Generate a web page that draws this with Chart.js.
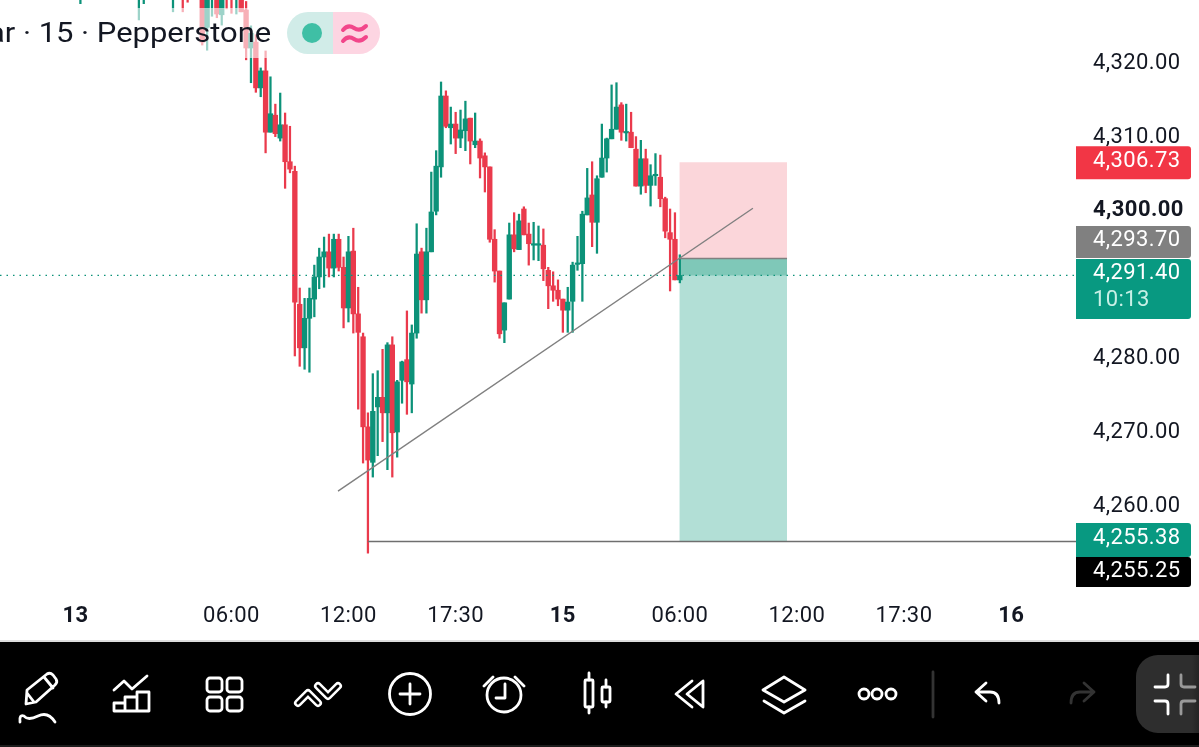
<!DOCTYPE html>
<html><head><meta charset="utf-8">
<script src="https://cdn.jsdelivr.net/npm/chart.js@4"></script>
<style>
html,body{margin:0;padding:0;background:#fff;width:1199px;height:747px;overflow:hidden}
#wrap{position:relative;width:1199px;height:747px;overflow:hidden}
canvas{position:absolute;left:0;top:0}
#veil{position:absolute;left:0;top:8px;width:272px;height:50px;background:rgba(255,255,255,.6)}
#title{position:absolute;right:928px;top:14px;font:27px/38px Roboto,sans-serif;color:#131722;white-space:nowrap;transform:scaleX(1.146);transform-origin:right center}
#tb{position:absolute;left:0;top:0}
</style></head><body><div id="wrap">
<canvas id="c" width="1199" height="642"></canvas>
<div id="veil"></div>
<div id="title">ar · 15 · Pepperstone</div>
<svg id="tb" width="1199" height="747" viewBox="0 0 1199 747" fill="none" stroke="#fff" stroke-width="2.8" stroke-linecap="round" stroke-linejoin="round">
<defs><linearGradient id="g" x1="0" x2="1" y1="0" y2="0"><stop offset="0" stop-color="#2e2e2e"/><stop offset=".62" stop-color="#2e2e2e"/><stop offset="1" stop-color="#000"/></linearGradient></defs>
<path d="M333 12H308a21 21 0 0 0 0 42H333Z" fill="#d1ece8" stroke="none"/>
<path d="M333 12H359a21 21 0 0 1 0 42H333Z" fill="#fdd5e2" stroke="none"/>
<circle cx="312" cy="33" r="10" fill="#3fbfa5" stroke="none"/>
<path d="M343 30Q348 24 354 28T366 26M343 41Q348 35 354 39T366 37" stroke="#f2468a" stroke-width="4"/>
<rect x="0" y="642" width="1199" height="105" fill="#000" stroke="none"/>
<rect x="0" y="640" width="1199" height="2" fill="#ddd" stroke="none"/>
<rect x="0" y="745" width="1199" height="2" fill="#1c1c1c" stroke="none"/>
<path d="M27 690L47 674Q50 672 53 675L56 679Q58 682 55 685L36 702L26 704ZM44 677L53 688M27 693L34 702"/>
<path d="M20 722Q19 714 24 716Q28 721 38 716Q48 711 55 722"/>
<path d="M114 690L124 681L132 689L147 676M114 711V703H125V711M125 711V697H137V711M137 711V692H149V711M114 711H149"/>
<rect x="207" y="678" width="15" height="14" rx="3"/><rect x="227" y="678" width="15" height="14" rx="3"/>
<rect x="207" y="697" width="15" height="14" rx="3"/><rect x="227" y="697" width="15" height="14" rx="3"/>
<path d="M298 703L308 693L318 703M318 686L328 696L338 686" stroke-width="8"/>
<path d="M298 703L308 693L318 703M318 686L328 696L338 686" stroke="#000" stroke-width="3"/>
<circle cx="410" cy="694" r="20.5"/><path d="M410 684V704M400 694H420"/>
<circle cx="504" cy="695" r="17"/><path d="M505 684V698H496M484 686L493 677M515 677L524 686"/>
<path d="M589 673V680M589 707V713M606 680V687M606 702V707"/><rect x="585" y="680" width="8" height="27" rx="1"/><rect x="602" y="687" width="8" height="15" rx="1"/>
<path d="M692 681L676 694L692 707M703 681L687 694L703 707Z"/>
<path d="M784 677L805 690L784 702L763 690ZM764 701L784 713L805 701"/>
<circle cx="864" cy="694" r="5"/><circle cx="877" cy="694" r="5"/><circle cx="891" cy="694" r="5"/>
<path d="M933 672V717" stroke="#333"/>
<path d="M986 683L976 692L986 701M976 692H990Q999 692 999 703"/>
<path d="M1084 683L1094 692L1084 701M1094 692H1080Q1071 692 1071 703" stroke="#333"/>
<rect x="1136" y="655" width="90" height="78" rx="22" fill="url(#g)" stroke="none"/>
<path d="M1155 687H1165Q1168 687 1168 684V675M1155 701H1165Q1168 701 1168 704V714"/>
<path d="M1195 687H1184Q1181 687 1181 684V675M1195 701H1184Q1181 701 1181 704V714" stroke="#999"/>
</svg>
</div>
<script>
// candle slots on the 15-minute time axis
const candleSlots=[16,28,29,35,37,38,41,42,43,44,45,46,47,48,49,50,51,52,53,54,55,56,57,58,59,60,61,62,63,64,65,66,67,68,69,70,71,72,73,74,75,76,77,78,79,80,81,82,83,84,85,86,87,88,89,90,91,92,93,94,95,96,97,98,99,100,101,102,103,104,105,106,107,108,109,110,111,112,113,114,115,116,117,118,119,120,121,122,123,124,125,126,127,128,129,130,131,132,133,134,135,136,137,138,139];
const opens=[4331,4330,4330,4330,4331,4331,4329.4,4325,4329.2,4329.5,4326.7,4330,4330.5,4329.5,4329.8,4327.35,4322.2,4323,4316.8,4319.1,4310.8,4313.1,4310,4311.8,4306.8,4305.5,4287.5,4281.6,4285.6,4288.2,4291.2,4293.9,4294.6,4292.4,4296.3,4292.5,4287,4294.7,4286.2,4283.1,4270.9,4266.1,4273.6,4274.9,4272.8,4282,4270.2,4277.2,4280,4276.7,4283.6,4294.6,4288.1,4294.6,4300.1,4306.1,4315.7,4311.4,4311.9,4310,4311,4312.7,4309.1,4309.6,4307.6,4306.1,4296.3,4292,4284,4288.2,4296.9,4294.9,4300.4,4297,4295.5,4295.5,4295.5,4292.1,4290,4289.4,4288.2,4286.7,4287.9,4292.9,4293,4299.6,4302.3,4298.6,4304.7,4307.3,4309.9,4311.2,4314.5,4310.7,4310.8,4308.5,4303.5,4307.2,4303.6,4304.9,4304.7,4301.8,4297.2,4296.3,4290.8];
const closes=[4333,4332,4332,4332,4330,4330,4323,4329.5,4330,4326.8,4329.5,4329.2,4329.5,4330.5,4327.1,4322.2,4324.2,4316.8,4319.1,4310.8,4313.3,4310.6,4311.8,4306.8,4305.8,4287.8,4281.6,4285.6,4288.3,4291.2,4293.9,4294.6,4292.4,4296.3,4292.5,4287,4294.6,4286.2,4283.7,4270.9,4266.4,4273,4274.9,4272.8,4282,4270.1,4277,4279.7,4277,4283.6,4294.3,4288.1,4294.6,4300,4306.2,4315.7,4311.6,4311.9,4310,4311.1,4312.6,4309.6,4309.6,4307.3,4306.1,4296.3,4292,4283.5,4287.7,4296.9,4295,4298.8,4296.9,4295.7,4295.7,4295.7,4292.3,4290,4289.4,4288.2,4286.7,4287.8,4292.8,4293.1,4299.7,4301.9,4298.6,4304.5,4307.3,4309.9,4311.2,4314.2,4310.8,4310.9,4308.7,4303.5,4307.2,4303.6,4304.9,4305.1,4301.8,4297.4,4296.3,4290.8,4291.4];
const highs=[4334,4333,4333,4333,4332,4331,4330,4330.5,4330.5,4330,4330,4330.5,4331,4331,4330.5,4328.5,4325.2,4324,4319.5,4321.8,4318.3,4314.6,4316.1,4313.4,4311.6,4306.2,4289.7,4288.3,4289.7,4292.8,4295.1,4296.6,4297,4297,4297,4293.9,4296.7,4297.8,4289.8,4283.6,4272.8,4278.1,4278.5,4281.4,4282.3,4283.1,4277.2,4279.8,4286.6,4284.7,4298.4,4295.1,4297.8,4305.4,4308.3,4317.6,4316.4,4314.2,4313.5,4313.8,4315,4312.7,4313.4,4309.9,4308,4306.1,4297.6,4292,4287.7,4298.5,4299.9,4299.7,4300.7,4298.5,4298.6,4298.1,4297.7,4292.5,4291.9,4290.8,4288.2,4289.8,4293.2,4296.7,4300.1,4305.9,4306.8,4304.9,4311.9,4310,4317.2,4317.5,4314.8,4314.6,4313.5,4310.2,4309.7,4308.5,4306.4,4307.9,4307.7,4302,4300.4,4299.9,4294.2];
const lows=[4328.2,4326,4328.2,4327.1,4327.1,4328.4,4322.6,4321.9,4326.5,4326.3,4325.3,4327.5,4326.9,4326.8,4327.1,4320.6,4317.5,4316.2,4315.6,4308,4310.8,4310.2,4309.6,4303.2,4305.3,4280.5,4279.1,4278.7,4278.3,4285.8,4289.6,4289.8,4291.2,4291.2,4292,4284.3,4285.1,4283.6,4273.3,4266,4253.8,4264.1,4267,4268.9,4265.1,4264.1,4266.8,4274.1,4272.6,4272.8,4282.9,4286.3,4286.3,4294.6,4299.6,4304.7,4311.4,4309.2,4307.9,4308.7,4308.3,4306.5,4308.7,4304.6,4302.7,4295.9,4290.5,4282.9,4282.3,4288.2,4294.6,4294.9,4296.9,4292.8,4293.5,4293.4,4290.7,4286.9,4287.9,4287.3,4283.7,4283.7,4283.7,4292.1,4287.9,4299.6,4295.3,4294.4,4304.7,4305.4,4309.9,4311.2,4309.7,4309.6,4308.7,4303.5,4302.4,4302.6,4300.8,4303.6,4300.7,4296.5,4289.3,4290.8,4290.4];
// axis
const priceTicks=[4260,4270,4280,4300,4310,4320];
const boldPrice=4300;
const timeSlots=[15,47,71,93,115,139,163,185,207];
const timeLabels=['13','06:00','12:00','17:30','15','06:00','12:00','17:30','16'];
const boldTimes=['13','15','16'];
// drawings
const trendSlots=[68.86,154];
const trendPrices=[4262.2,4300.5];
const positionSlots=[138.9,161];
const entryPrice=4293.7, stopPrice=4306.73, targetPrice=4255.38, lastPrice=4291.4, crossPrice=4255.25;
const levelSlots=[75,220.5];
const lastSlots=[-0.5,220.5];
const countdown='10:13';

const RED='#ea3a4c', GREEN='#0c9279';
const up=i=>closes[i]>=opens[i];
const pts=(xs,ys)=>xs.map((x,i)=>({x,y:ys[i]}));
const flat=(xs,y)=>xs.map(x=>({x,y}));
const area=(data,base,color,order)=>({type:'line',data,order,borderWidth:0,pointRadius:0,backgroundColor:color,fill:{value:base},tension:0});
const stroke=(data,color,w,order,dash)=>({type:'line',data,order,borderColor:color,borderWidth:w,pointRadius:0,fill:false,borderDash:dash||[],tension:0});
const noPad=a=>{a.paddingTop=0;a.paddingBottom=0;a.paddingLeft=0;a.paddingRight=0;};

const tagPlugin={id:'priceTags',
 beforeDraw(chart){chart.ctx.letterSpacing='0.4px';},
 afterDraw(chart){
  const c=chart.ctx,y=chart.scales.y;
  const fmt=v=>v.toLocaleString('en-US',{minimumFractionDigits:2,maximumFractionDigits:2});
  const tags=[
   {p:stopPrice,a:16,b:17,bg:'#f23645',t:[[fmt(stopPrice),-1,'#fff']]},
   {p:entryPrice,a:32.5,b:-0.5,bg:'#808080',t:[[fmt(entryPrice),-17.5,'#fff']]},
   {p:lastPrice,a:16.5,b:43.5,bg:'#089981',t:[[fmt(lastPrice),-1.5,'#fff'],[countdown,25.5,'#c8f0e6']]},
   {p:targetPrice,a:18.5,b:15.5,bg:'#089981',t:[[fmt(targetPrice),-2.5,'#fff']]},
   {p:crossPrice,a:-14.5,b:44.5,bg:'#000',t:[[fmt(crossPrice),29.5,'#fff']]}
  ];
  c.save();
  tags.forEach(g=>{const py=y.getPixelForValue(g.p);
    c.fillStyle=g.bg;c.beginPath();c.roundRect(1076,py-g.a,115,g.a+g.b,[0,3,3,0]);c.fill();
    c.font='22px Roboto';c.textAlign='left';c.textBaseline='middle';
    g.t.forEach(([s,o,col])=>{c.fillStyle=col;c.fillText(s,1093,py+o);});
  });
  c.restore();
 }};

new Chart(document.getElementById('c'),{
 type:'bar',
 data:{datasets:[
  area(flat(positionSlots,stopPrice),entryPrice,'#fbd6da',20),
  area(flat(positionSlots,targetPrice),entryPrice,'#b2dfd6',20),
  area(flat(positionSlots,lastPrice),entryPrice,'#7fc8b8',19),
  {label:'wicks',data:candleSlots.map((x,i)=>({x,y:[lows[i],highs[i]]})),barThickness:1.6,order:10,grouped:false,
   backgroundColor:c=>up(c.dataIndex)?GREEN:RED,borderWidth:0},
  {label:'bodies',data:candleSlots.map((x,i)=>({x,y:[opens[i],closes[i]]})),barThickness:4.7,order:9,grouped:false,
   backgroundColor:c=>up(c.dataIndex)?GREEN:RED,borderWidth:0},
  stroke(flat(lastSlots,lastPrice),'#0c9279',1.3,5,[1.5,5]),
  stroke(flat(positionSlots,entryPrice),'#808080',1.3,5),
  stroke(flat(levelSlots,targetPrice),'#6f6f6f',1.3,5),
  stroke(pts(trendSlots,trendPrices),'#808080',1.4,4)
 ]},
 plugins:[tagPlugin],
 options:{
  responsive:false,animation:false,devicePixelRatio:1,
  layout:{padding:0},
  plugins:{legend:{display:false},tooltip:{enabled:false},title:{display:false}},
  scales:{
   x:{type:'linear',min:-0.5,max:220.5,offset:false,
    grid:{display:false,drawTicks:false},border:{display:false},
    afterBuildTicks:a=>{a.ticks=timeSlots.map(v=>({value:v}));},
    afterFit:a=>{a.height=52;noPad(a);},
    ticks:{autoSkip:false,maxRotation:0,padding:13,color:'#131722',
     callback:(v)=>timeLabels[timeSlots.indexOf(v)],
     font:c=>{const s=c.tick?timeLabels[timeSlots.indexOf(c.tick.value)]:'';return {family:'Roboto',size:22,weight:boldTimes.includes(s)?'bold':'normal'};}}},
   y:{type:'linear',position:'right',min:4248.81,max:4328.7,
    grid:{display:false,drawTicks:false},border:{display:false},
    afterBuildTicks:a=>{a.ticks=priceTicks.map(v=>({value:v}));},
    afterFit:a=>{a.width=122;noPad(a);},
    ticks:{padding:16,color:'#131722',
     callback:v=>[v.toLocaleString('en-US',{minimumFractionDigits:2}),''],
     font:c=>({family:'Roboto',size:22,lineHeight:'2px',weight:(c.tick&&c.tick.value===boldPrice)?'bold':'normal'})}}
  }
 }
});
</script></body></html>
